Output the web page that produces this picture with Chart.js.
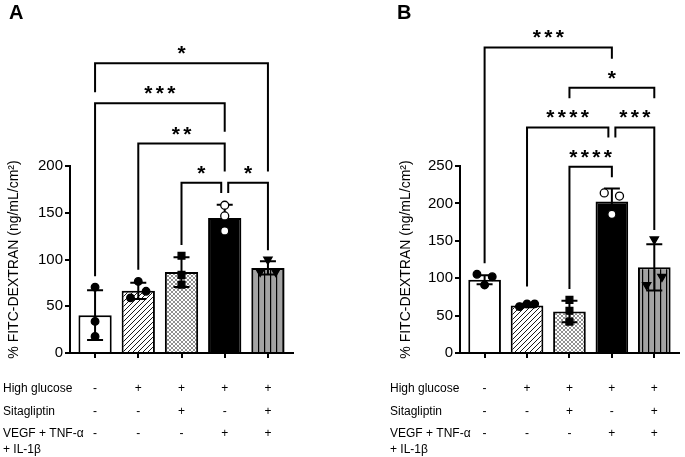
<!DOCTYPE html>
<html>
<head>
<meta charset="utf-8">
<script src="https://cdn.jsdelivr.net/npm/chart.js@4.4.1/dist/chart.umd.min.js"></script>
<style>
  body { margin: 0; background: #fff; }
  #wrap { position: relative; width: 685px; height: 457px; }
  #wrap canvas { position: absolute; top: 0; }
</style>
</head>
<body>
<div id="wrap">
  <canvas id="chartA" width="342" height="457" style="left:0"></canvas>
  <canvas id="chartB" width="343" height="457" style="left:342px"></canvas>
</div>
<script>
// treatment table under the bars
const rowHighGlucose = ['-', '+', '+', '+', '+'];
const rowSitagliptin = ['-', '-', '+', '-', '+'];
const rowCytokines = ['-', '-', '-', '+', '+'];

// panel A
const meanA = [40.5, 66.5, 86.5, 144.5, 91];
const sdA = [26.5, 8.7, 16, 14, 7];
const pointsA = [[70.5, 33.8, 17.7], [59, 76.5, 66], [104, 83.6, 73], [158, 146.6, 130.6], [87, 100, 87]];
const yTicksA = [0, 50, 100, 150, 200];
// [from, to, stars, bracket height, left leg end, right leg end] (y units)
const bracketsA = [
  [2, 3, '*', 182, 115.5, 171],
  [3, 4, '*', 182, 171, 110],
  [1, 3, '**', 224, 89, 194],
  [0, 3, '***', 267, 82, 236.5],
  [0, 4, '*', 310, 279, 194]
];

// panel B
const meanB = [98, 63.5, 55.5, 202.5, 114.5];
const sdB = [6, 2.5, 14.5, 17.5, 31];
const pointsB = [[105.3, 91, 102], [62, 65.7, 65.7], [71, 56.4, 42], [214, 185.4, 209.8], [152, 91, 102]];
const yTicksB = [0, 50, 100, 150, 200, 250];
const bracketsB = [
  [2, 3, '****', 249, 85.5, 235],
  [1, 3, '****', 301.5, 89, 288],
  [3, 4, '***', 301.5, 288, 164.5],
  [2, 4, '*', 354.5, 340.5, 340.5],
  [0, 3, '***', 408.5, 120, 393.5]
];

const FONT = "'Liberation Sans', Arial, sans-serif";
Chart.defaults.font.family = FONT;
Chart.defaults.color = '#000';

function makePattern(size, bg, draw) {
  let c = document.createElement('canvas');
  c.width = size; c.height = size;
  let g = c.getContext('2d');
  g.fillStyle = bg;
  g.fillRect(0, 0, size, size);
  g.strokeStyle = '#000';
  draw(g, size);
  return g.createPattern(c, 'repeat');
}

const hatch = makePattern(5, '#fff', (g, s) => {
  g.lineWidth = 0.9;
  g.beginPath();
  g.moveTo(-1, s + 1); g.lineTo(s + 1, -1);
  g.moveTo(-1, 1); g.lineTo(1, -1);
  g.moveTo(s - 1, s + 1); g.lineTo(s + 1, s - 1);
  g.stroke();
});
const crossHatch = makePattern(4, '#fff', (g, s) => {
  g.lineWidth = 0.6;
  g.strokeStyle = '#444';
  g.beginPath();
  g.moveTo(0, s); g.lineTo(s, 0);
  g.moveTo(0, 0); g.lineTo(s, s);
  g.stroke();
});
const stripes = makePattern(6, '#a3a3a3', (g, s) => {
  g.fillStyle = '#000';
  g.fillRect(0, 0, 1.2, s);
});
const barFills = ['#fff', hatch, crossHatch, '#000', stripes];

const markers = [
  { style: 'circle', fill: '#000', radius: 3.8, rot: 0 },
  { style: 'circle', fill: '#000', radius: 3.8, rot: 0 },
  { style: 'rect', fill: '#000', radius: 4.8, rot: 0 },
  { style: 'circle', fill: '#fff', radius: 4, rot: 0 },
  { style: 'triangle', fill: '#000', radius: 4.8, rot: 180 }
];

// points closer than 5% of the axis get pushed apart sideways
function spreadOffsets(vals, axisMax) {
  let near = vals.map((v, k) => vals.some((w, j) => j !== k && Math.abs(v - w) < axisMax * 0.05));
  let crowded = vals.map((v, k) => k).filter(k => near[k]);
  let n = crowded.length;
  let offs = vals.map(() => 0);
  crowded.forEach((k, c) => {
    if (n === 2) offs[k] = c === 0 ? -0.18 : 0.18;
    else offs[k] = (c - (n - 1) / 2) * 0.18;
  });
  return offs;
}

function drawStars(ctx, text, cx, cy) {
  ctx.save();
  ctx.font = 'bold 21px ' + FONT;
  ctx.fillStyle = '#000';
  ctx.textAlign = 'center';
  ctx.textBaseline = 'alphabetic';
  let m = ctx.measureText('*');
  let mid = (m.actualBoundingBoxAscent - m.actualBoundingBoxDescent) / 2;
  let n = text.length;
  for (let i = 0; i < n; i++) {
    ctx.fillText('*', cx + (i - (n - 1) / 2) * 11.5, cy + mid);
  }
  ctx.restore();
}

function buildChart(id, p) {
  let yMax = p.ticks[p.ticks.length - 1];
  let datasets = [{
    type: 'bar',
    data: p.means.map((m, i) => ({ x: i, y: m })),
    backgroundColor: barFills,
    borderColor: '#000',
    borderWidth: 2,
    categoryPercentage: 1,
    barPercentage: 0.77,
    order: 1
  }];

  p.points.forEach((vals, g) => {
    let offs = spreadOffsets(vals, yMax);
    let mk = markers[g];
    datasets.push({
      type: 'scatter',
      data: vals.map((v, k) => ({ x: g + offs[k], y: v })),
      pointStyle: mk.style,
      pointRotation: mk.rot,
      pointRadius: mk.radius,
      backgroundColor: mk.fill,
      borderColor: '#000',
      borderWidth: 1.3,
      order: 0
    });
  });

  const errorBars = {
    id: 'errorBars',
    afterDatasetDraw(chart, args) {
      if (args.index !== 0) return;
      let ctx = chart.ctx, xs = chart.scales.x, ys = chart.scales.y;
      ctx.save();
      ctx.strokeStyle = '#000';
      ctx.lineWidth = 2;
      p.means.forEach((m, i) => {
        let x = xs.getPixelForValue(i);
        let top = ys.getPixelForValue(m + p.sds[i]);
        let bot = ys.getPixelForValue(m - p.sds[i]);
        ctx.beginPath();
        ctx.moveTo(x, top); ctx.lineTo(x, bot);
        ctx.moveTo(x - 8, top); ctx.lineTo(x + 8, top);
        ctx.moveTo(x - 8, bot); ctx.lineTo(x + 8, bot);
        ctx.stroke();
      });
      ctx.restore();
    }
  };

  const extras = {
    id: 'extras',
    afterDraw(chart) {
      let ctx = chart.ctx, xs = chart.scales.x, ys = chart.scales.y;
      ctx.save();
      // significance brackets
      ctx.strokeStyle = '#000';
      ctx.lineWidth = 2;
      p.brackets.forEach(b => {
        let [a, c, stars, lvl, ya, yc] = b;
        let xa = xs.getPixelForValue(a), xc = xs.getPixelForValue(c);
        p.brackets.forEach(o => {
          if (o === b || o[3] !== lvl) return;
          if (o[1] === a) xa += 3.5;
          if (o[0] === c) xc -= 3.5;
        });
        let yl = ys.getPixelForValue(lvl);
        ctx.beginPath();
        ctx.moveTo(xa, ys.getPixelForValue(ya));
        ctx.lineTo(xa, yl);
        ctx.lineTo(xc, yl);
        ctx.lineTo(xc, ys.getPixelForValue(yc));
        ctx.stroke();
        drawStars(ctx, stars, (xa + xc) / 2, yl - 13);
      });

      // treatment table
      ctx.fillStyle = '#000';
      ctx.font = '12px ' + FONT;
      ctx.textBaseline = 'middle';
      let rows = [['High glucose', rowHighGlucose, 388.5], ['Sitagliptin', rowSitagliptin, 411.5], ['VEGF + TNF-α', rowCytokines, 433.5]];
      rows.forEach(r => {
        ctx.textAlign = 'left';
        ctx.fillText(r[0], p.tableX, r[2]);
        ctx.textAlign = 'center';
        r[1].forEach((s, i) => ctx.fillText(s, xs.getPixelForValue(i), r[2]));
      });
      ctx.textAlign = 'left';
      ctx.fillText('+ IL-1β', p.tableX, 450);

      // panel letter
      ctx.font = 'bold 20px ' + FONT;
      ctx.textBaseline = 'alphabetic';
      ctx.fillText(p.letter, p.letterX, 18.5);
      ctx.restore();
    }
  };

  return new Chart(document.getElementById(id), {
    type: 'bar',
    data: { datasets: datasets },
    options: {
      responsive: false,
      animation: false,
      events: [],
      layout: { padding: { left: p.padLeft, right: p.padRight, top: 166, bottom: 0 } },
      plugins: { legend: { display: false }, tooltip: { enabled: false } },
      scales: {
        x: {
          type: 'linear',
          offset: false,
          min: -0.58,
          max: 4.58,
          afterBuildTicks: s => { s.ticks = p.means.map((m, i) => ({ value: i })); },
          afterFit: s => { s.height = 104; },
          ticks: { display: false },
          grid: { offset: false, drawOnChartArea: false, color: '#000', lineWidth: 2, tickLength: 5 },
          border: { color: '#000', width: 2 }
        },
        y: {
          min: 0,
          max: yMax,
          afterBuildTicks: s => { s.ticks = p.ticks.map(v => ({ value: v })); },
          afterFit: s => { s.width = 70; },
          ticks: { color: '#000', font: { size: 15 }, padding: 2 },
          grid: { drawOnChartArea: false, color: '#000', lineWidth: 2, tickLength: 5 },
          border: { color: '#000', width: 2 },
          title: {
            display: true,
            text: '% FITC-DEXTRAN (ng/mL/cm²)',
            color: '#000',
            font: { size: 14 },
            padding: { top: p.titlePad, bottom: 0 }
          }
        }
      }
    },
    plugins: [errorBars, extras]
  });
}

buildChart('chartA', {
  means: meanA, sds: sdA, points: pointsA, ticks: yTicksA, brackets: bracketsA,
  padLeft: 0, padRight: 49, titlePad: 6, tableX: 3, letter: 'A', letterX: 9
});
buildChart('chartB', {
  means: meanB, sds: sdB, points: pointsB, ticks: yTicksB, brackets: bracketsB,
  padLeft: 48, padRight: 2, titlePad: 8, tableX: 48, letter: 'B', letterX: 55
});
</script>
</body>
</html>
